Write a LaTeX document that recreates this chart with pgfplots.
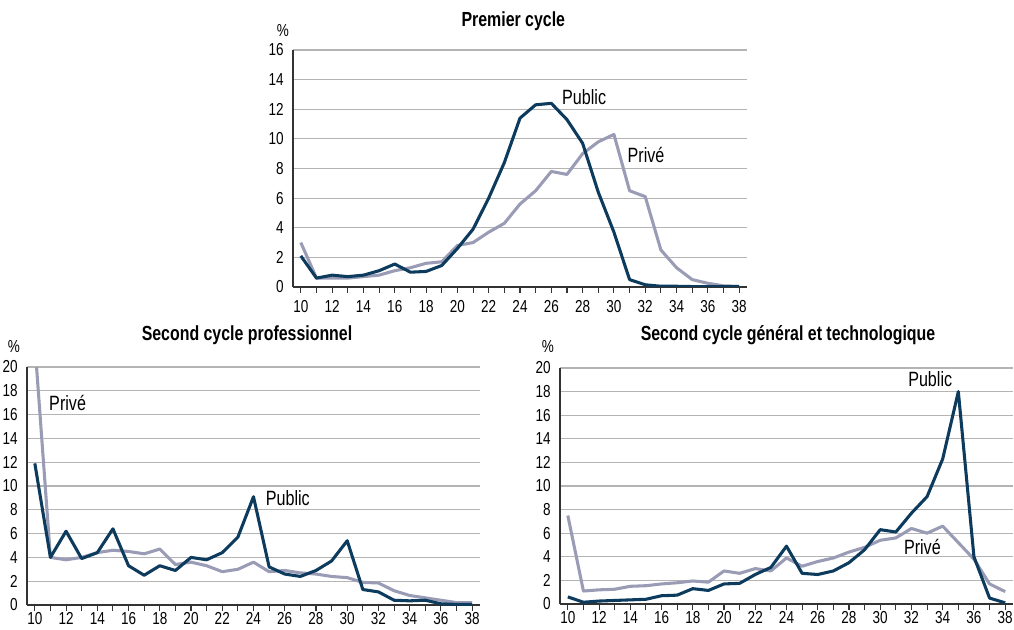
\documentclass[border=0pt]{standalone}
\usepackage{fontspec}
\setmainfont[FakeStretch=0.78]{Liberation Sans}
\usepackage{pgfplots}
\pgfplotsset{compat=1.18}
\definecolor{pub}{HTML}{0D3B5E}
\definecolor{pri}{HTML}{9A9CB5}
\definecolor{gridc}{HTML}{B4B4B4}

\pgfplotsset{
  mystyle/.style={
    scale only axis,
    axis lines*=left,
    axis line style={draw=black!80, line width=0.8pt},
    xmin=9.5, xmax=38.5,
    xtick={10,12,...,38},
    minor xtick={11,13,...,37},
    ymin=0,
    ymajorgrids,
    major grid style={gridc, line width=0.9pt},
    ytick style={draw=none},
    xtick style={draw=black!80, line width=0.8pt},
    minor tick length=4.5pt,
    major tick length=4.5pt,
    tick align=outside,
    /pgf/number format/assume math mode=true,
    tick label style={font=\fontsize{13}{15}\selectfont},
    xticklabel style={yshift=-2pt},
    yticklabel style={xshift=1pt},
    every axis plot/.append style={line width=2.3pt, line join=round},
  }
}
\newcommand{\lab}{\fontsize{15.5}{17}\selectfont}
\newcommand{\ttl}{\fontsize{15.3}{17}\selectfont\bfseries}
\newcommand{\pct}{\fontsize{13}{15}\selectfont}

\begin{document}
\begin{tikzpicture}
\useasboundingbox (0pt,0pt) rectangle (760.5pt,471.75pt);

% ---------- Premier cycle ----------
\begin{axis}[mystyle, at={(219.75pt,256.5pt)}, anchor=south west,
  width=340.5pt, height=177.75pt, ymax=16, ytick={0,2,...,16}]
\addplot[pri] coordinates {
(10,3.0)(11,0.6)(12,0.6)(13,0.6)(14,0.7)(15,0.8)(16,1.1)(17,1.3)(18,1.6)(19,1.7)
(20,2.8)(21,3.0)(22,3.7)(23,4.3)(24,5.6)(25,6.5)(26,7.8)(27,7.6)(28,9.0)(29,9.8)
(30,10.3)(31,6.5)(32,6.1)(33,2.5)(34,1.3)(35,0.5)(36,0.25)(37,0.08)(38,0.05)};
\addplot[pub] coordinates {
(10,2.1)(11,0.6)(12,0.8)(13,0.7)(14,0.8)(15,1.1)(16,1.55)(17,1.0)(18,1.05)(19,1.45)
(20,2.6)(21,3.9)(22,6.0)(23,8.4)(24,11.4)(25,12.3)(26,12.4)(27,11.3)(28,9.7)(29,6.4)
(30,3.7)(31,0.5)(32,0.15)(33,0.05)(34,0.05)(35,0.03)(36,0.03)(37,0.02)(38,0.02)};
\node[font=\lab] at (axis cs:28.1,12.8) {Public};
\node[font=\lab] at (axis cs:32.05,8.9) {Privé};
\end{axis}
\node[font=\pct] at (212.25pt,448.5pt) {\%};
\node[font=\ttl] at (385pt,456pt) {Premier cycle};

% ---------- Second cycle professionnel ----------
\begin{axis}[mystyle, at={(20.25pt,18pt)}, anchor=south west,
  width=339.75pt, height=178.5pt, ymax=20, ytick={0,2,...,20},
  xticklabel style={inner sep=0pt, yshift=1pt}]
\addplot[pri] coordinates {
(10,22)(11,4.0)(12,3.8)(13,4.0)(14,4.4)(15,4.6)(16,4.5)(17,4.3)(18,4.7)(19,3.4)
(20,3.6)(21,3.3)(22,2.8)(23,3.0)(24,3.6)(25,2.8)(26,2.9)(27,2.7)(28,2.6)(29,2.4)
(30,2.3)(31,1.9)(32,1.85)(33,1.2)(34,0.8)(35,0.6)(36,0.4)(37,0.2)(38,0.2)};
\addplot[pub] coordinates {
(10,11.9)(11,4.0)(12,6.2)(13,3.9)(14,4.4)(15,6.4)(16,3.3)(17,2.5)(18,3.3)(19,2.9)
(20,4.0)(21,3.8)(22,4.4)(23,5.7)(24,9.1)(25,3.2)(26,2.6)(27,2.4)(28,2.9)(29,3.7)
(30,5.4)(31,1.3)(32,1.1)(33,0.4)(34,0.35)(35,0.4)(36,0.1)(37,0.05)(38,0.05)};
\node[font=\lab] at (axis cs:12.1,17.0) {Privé};
\node[font=\lab] at (axis cs:26.2,9.0) {Public};
\end{axis}
\node[font=\pct] at (10.5pt,211.5pt) {\%};
\node[font=\ttl] at (185.25pt,220.5pt) {Second cycle professionnel};

% ---------- Second cycle general ----------
\begin{axis}[mystyle, at={(420pt,18.75pt)}, anchor=south west,
  width=339.75pt, height=177pt, ymax=20, ytick={0,2,...,20},
  xticklabel style={inner sep=0pt, yshift=1pt}]
\addplot[pri] coordinates {
(10,7.5)(11,1.1)(12,1.2)(13,1.25)(14,1.5)(15,1.55)(16,1.7)(17,1.8)(18,1.95)(19,1.85)
(20,2.8)(21,2.6)(22,3.0)(23,2.8)(24,3.9)(25,3.2)(26,3.6)(27,3.9)(28,4.4)(29,4.8)
(30,5.4)(31,5.6)(32,6.4)(33,6.0)(34,6.6)(35,5.2)(36,3.8)(37,1.7)(38,1.05)};
\addplot[pub] coordinates {
(10,0.6)(11,0.15)(12,0.25)(13,0.3)(14,0.35)(15,0.4)(16,0.7)(17,0.75)(18,1.3)(19,1.15)
(20,1.7)(21,1.75)(22,2.5)(23,3.1)(24,4.9)(25,2.6)(26,2.5)(27,2.8)(28,3.5)(29,4.6)
(30,6.3)(31,6.1)(32,7.7)(33,9.1)(34,12.3)(35,18.0)(36,4.0)(37,0.5)(38,0.1)};
\node[font=\lab] at (axis cs:33.2,19.07) {Public};
\node[font=\lab] at (axis cs:32.7,4.83) {Privé};
\end{axis}
\node[font=\pct] at (411pt,211.5pt) {\%};
\node[font=\ttl] at (591pt,220.5pt) {Second cycle général et technologique};
\end{tikzpicture}
\end{document}
